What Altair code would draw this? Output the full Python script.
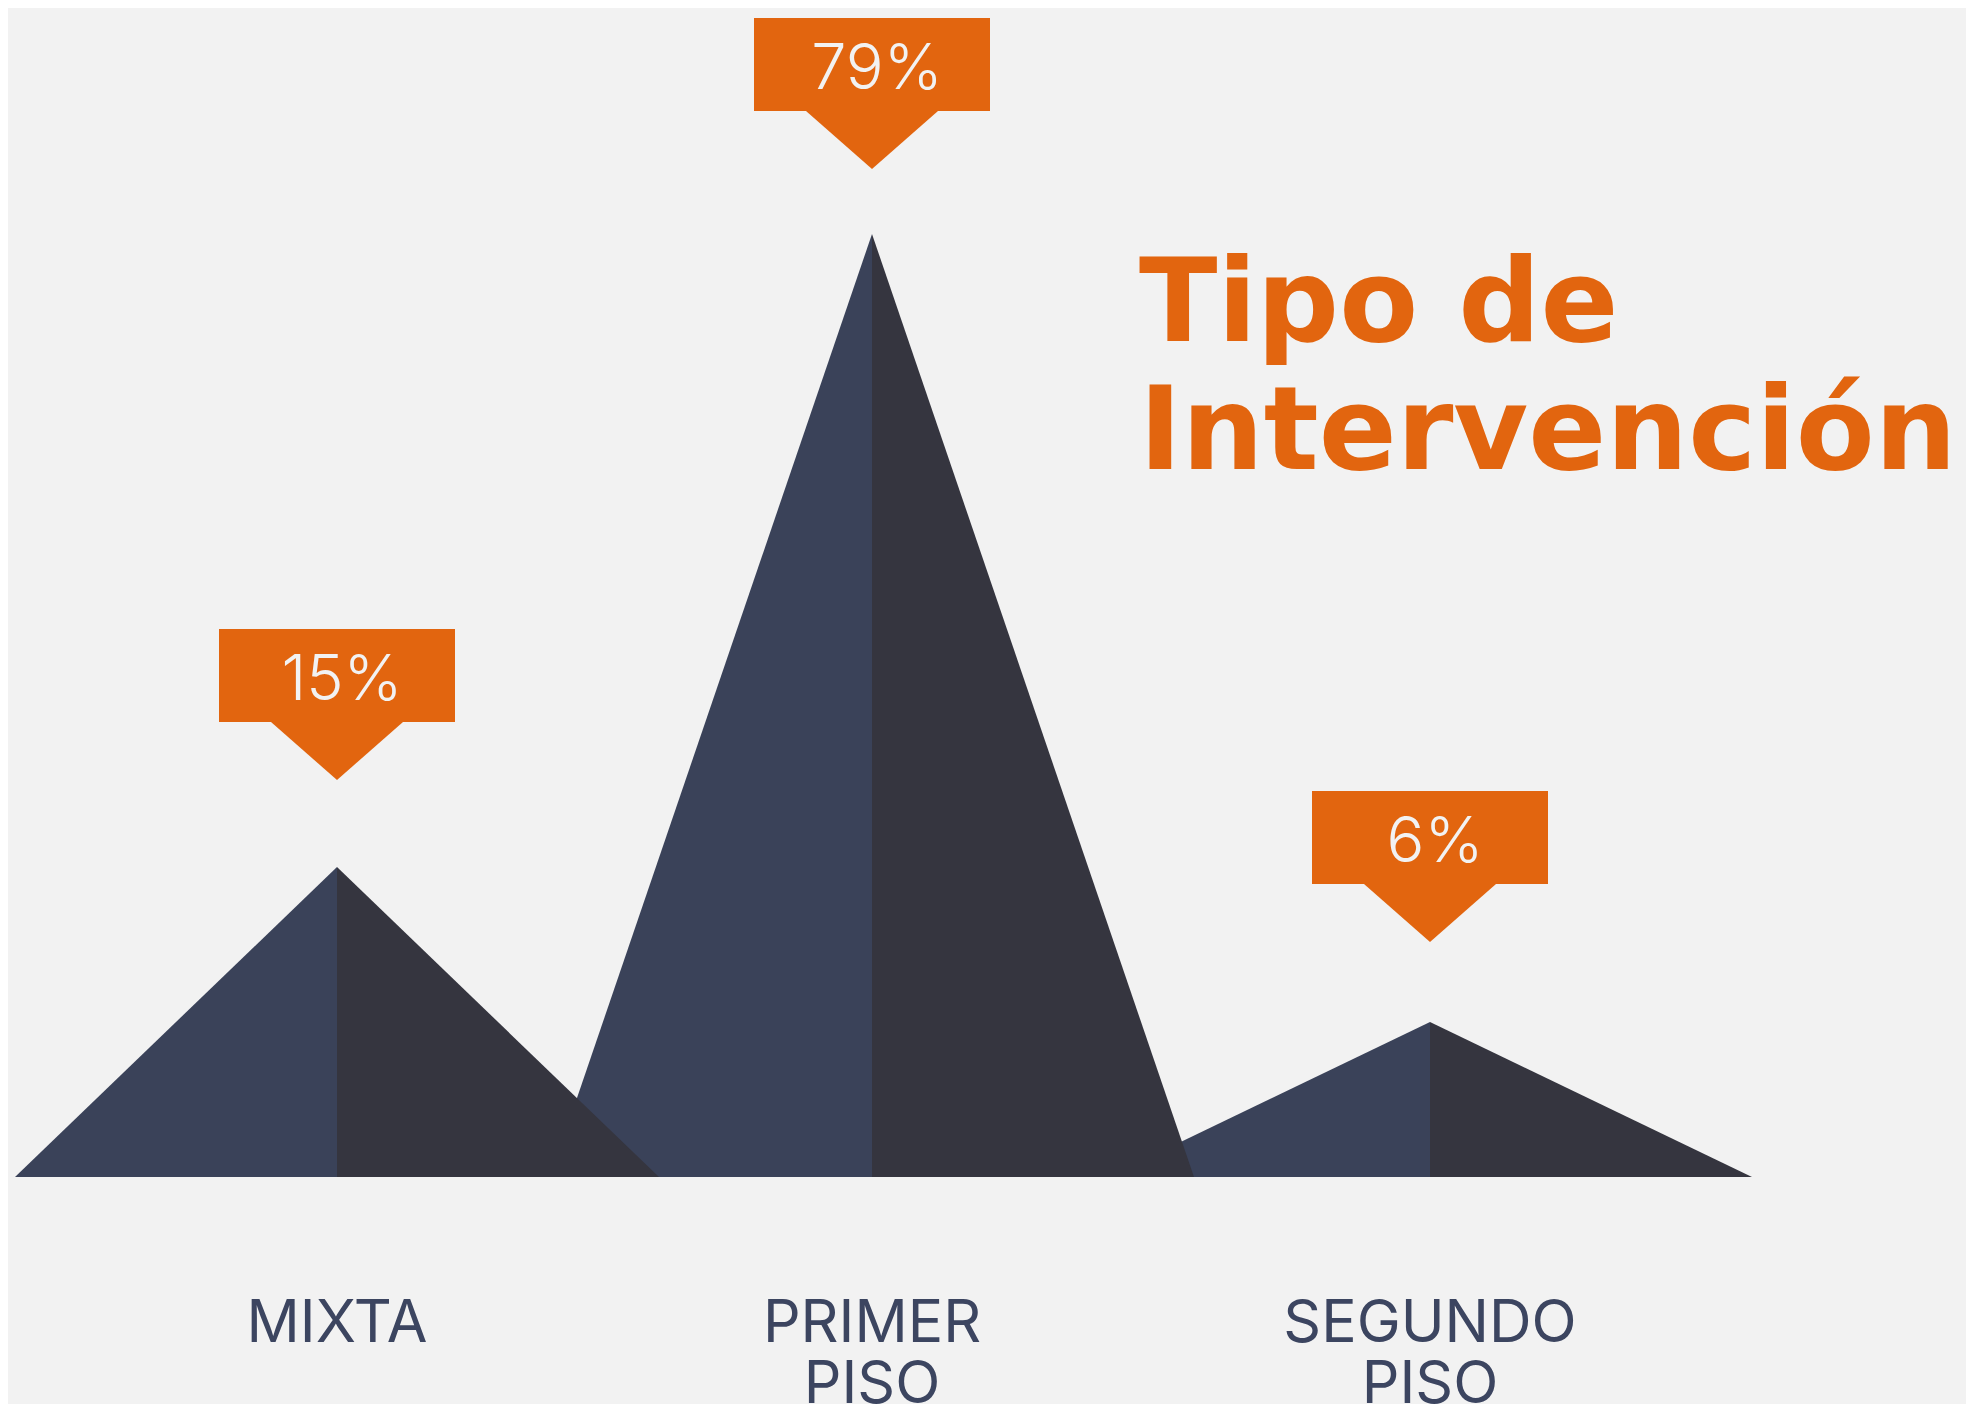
import altair as alt
import pandas as pd

# ---- data ----
categorias = ["MIXTA", "PRIMER PISO", "SEGUNDO PISO"]
porcentajes = [15, 79, 6]
centro_x = [337, 872, 1430]          # peak centre (page px)
altura_pico = [310, 943, 155]        # peak height above baseline (px)
altura_etiqueta = [397, 1008, 235]   # callout tip height above baseline (px)
titulo = "Tipo de\nIntervención"

# ---- layout constants ----
W, H = 1958, 1396
M = 8
BASE = 1177
HALF_W = 322
BOX_HW, BOX_H, PTR_HW, PTR_D = 118, 93, 66, 58

AZUL = "#3A4259"
OSCURO = "#35353F"
NARANJA = "#E2650F"
FONDO = "#F2F2F2"
TEXTO = "#3C4560"
FONT = "Inter"

xs = alt.Scale(domain=[M, M + W], nice=False, zero=False)
ys = alt.Scale(domain=[(BASE - M) - H, BASE - M], nice=False, zero=False)
X = lambda f: alt.X(f, type="quantitative", scale=xs, axis=None)
Y = lambda f: alt.Y(f, type="quantitative", scale=ys, axis=None)

rows = []
for c, cx, h in zip(categorias, centro_x, altura_pico):
    rows += [
        dict(cat=c, mitad="izq", x=cx - HALF_W, y=0, y0=0),
        dict(cat=c, mitad="izq", x=cx, y=h, y0=0),
        dict(cat=c, mitad="der", x=cx, y=h, y0=0),
        dict(cat=c, mitad="der", x=cx + HALF_W, y=0, y0=0),
    ]
picos = pd.DataFrame(rows)

layers = []
for c in reversed(categorias):
    layers.append(
        alt.Chart(picos[picos.cat == c]).mark_area(interpolate="linear").encode(
            x=X("x"), y=Y("y"), y2="y0",
            color=alt.Color("mitad:N", scale=alt.Scale(domain=["izq", "der"], range=[AZUL, OSCURO]), legend=None),
            detail="mitad:N",
        )
    )

call = pd.DataFrame(dict(cat=categorias, cx=centro_x, tip=altura_etiqueta, pct=porcentajes))
call["x1"] = call.cx - BOX_HW
call["x2"] = call.cx + BOX_HW
call["yb"] = call.tip + PTR_D
call["yt"] = call.tip + PTR_D + BOX_H
call["ty"] = call.tip + 80
call["txt"] = call.pct.astype(str) + "%"
call["lab"] = call.cat.str.replace(" ", "\n")
call["ly"] = -165

cajas = alt.Chart(call).mark_rect(color=NARANJA).encode(x=X("x1"), x2="x2", y=Y("yb"), y2="yt")

prow = []
for c, cx, t in zip(categorias, centro_x, altura_etiqueta):
    b = t + PTR_D
    prow += [dict(cat=c, x=cx - PTR_HW, y=b, y2=b), dict(cat=c, x=cx, y=b, y2=t), dict(cat=c, x=cx + PTR_HW, y=b, y2=b)]
punteros = alt.Chart(pd.DataFrame(prow)).mark_area(color=NARANJA, interpolate="linear").encode(
    x=X("x"), y=Y("y"), y2="y2", detail="cat:N"
)

pct_txt = alt.Chart(call).mark_text(
    font=FONT, fontSize=63, fontWeight=300, color=FONDO, align="center", baseline="alphabetic", dx=5
).encode(x=X("cx"), y=Y("ty"), text="txt:N")

etiquetas = alt.Chart(call).mark_text(
    font=FONT, fontSize=59, fontWeight=400, color=TEXTO, align="center", baseline="alphabetic",
    lineBreak="\n", lineHeight=61,
).encode(x=X("cx"), y=Y("ly"), text="lab:N")

tit = alt.Chart(pd.DataFrame(dict(t=[titulo], x=[1139], y=[BASE - 341]))).mark_text(
    font="DejaVu Sans", fontSize=115, fontWeight="bold", color=NARANJA, align="left", baseline="alphabetic",
    lineBreak="\n", lineHeight=128,
).encode(x=X("x"), y=Y("y"), text="t:N")

chart = alt.layer(*layers, cajas, punteros, pct_txt, etiquetas, tit).properties(
    width=W, height=H, background=FONDO, padding=0,
    autosize=alt.AutoSizeParams(type="none"),
).configure_view(stroke=None)

chart.save("out.html", embed_options={"renderer": "svg", "actions": False})
